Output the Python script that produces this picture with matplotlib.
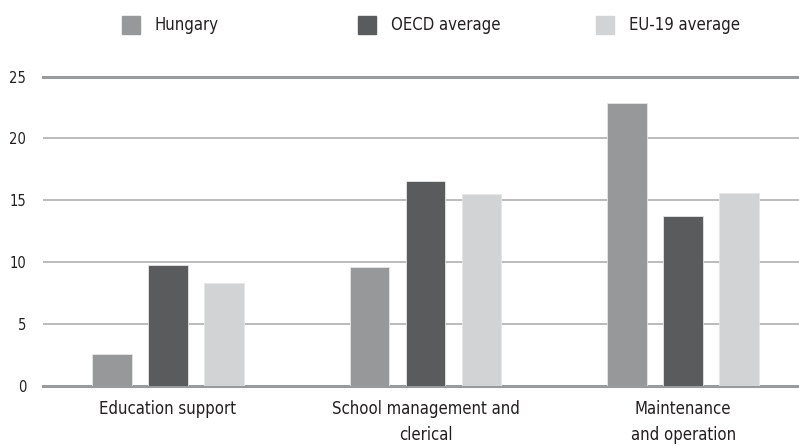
import numpy as np
import matplotlib
matplotlib.use("Agg")
import matplotlib.pyplot as plt
from matplotlib.patches import Rectangle

plt.rcParams['font.family'] = ['DejaVu Sans']
plt.rcParams['font.stretch'] = 'condensed'

categories = ["Education support", "School management and\nclerical",
              "Maintenance\nand operation"]
series_names = ["Hungary", "OECD average", "EU-19 average"]
hungary = [2.6, 9.6, 22.9]
oecd = [9.8, 16.6, 13.7]
eu19 = [8.3, 15.5, 15.6]
yticks = [0, 5, 10, 15, 20, 25]

colors = ["#97989a", "#5a5b5d", "#d2d3d5"]
text_col = "#231f20"

fig = plt.figure(figsize=(7.99, 4.48), dpi=100)
ax = fig.add_axes([43 / 799, 62.3 / 448, 1 - 43 / 799, (385.7 - 76.7) / 448])

x = np.arange(len(categories))
w = 0.155
off = 0.2175
for i, (vals, c) in enumerate(zip([hungary, oecd, eu19], colors)):
    ax.bar(x + (i - 1) * off, vals, width=w, color=c, edgecolor="#e6e6e6",
           linewidth=0.6, zorder=3)

ax.set_xlim(-0.485, 2.45)
ax.set_ylim(0, 25)
ax.set_yticks(yticks)
ax.set_yticklabels([str(t) for t in yticks], fontsize=10.5, color=text_col)
ax.set_xticks(x)
ax.set_xticklabels(categories, fontsize=12, color=text_col, linespacing=1.6,
                   va="top")
ax.tick_params(axis="both", length=0)
ax.tick_params(axis="y", pad=12)
ax.tick_params(axis="x", pad=10)

ax.yaxis.grid(True, color="#a8a8a8", linewidth=1.1, zorder=0)
for s in ["left", "right"]:
    ax.spines[s].set_visible(False)
for s in ["top", "bottom"]:
    ax.spines[s].set_color("#999a9c")
    ax.spines[s].set_linewidth(2.2)

# legend row at the top
leg_x = [122, 358, 596]
for lx, name, c in zip(leg_x, series_names, colors):
    fig.patches.append(Rectangle((lx / 799, 1 - 34 / 448), 18 / 799, 18 / 448,
                                 transform=fig.transFigure, color=c))
    fig.text((lx + 33) / 799, 1 - 25 / 448, name, fontsize=12,
             color=text_col, va="center", ha="left")

fig.savefig("out.png", dpi=100)
